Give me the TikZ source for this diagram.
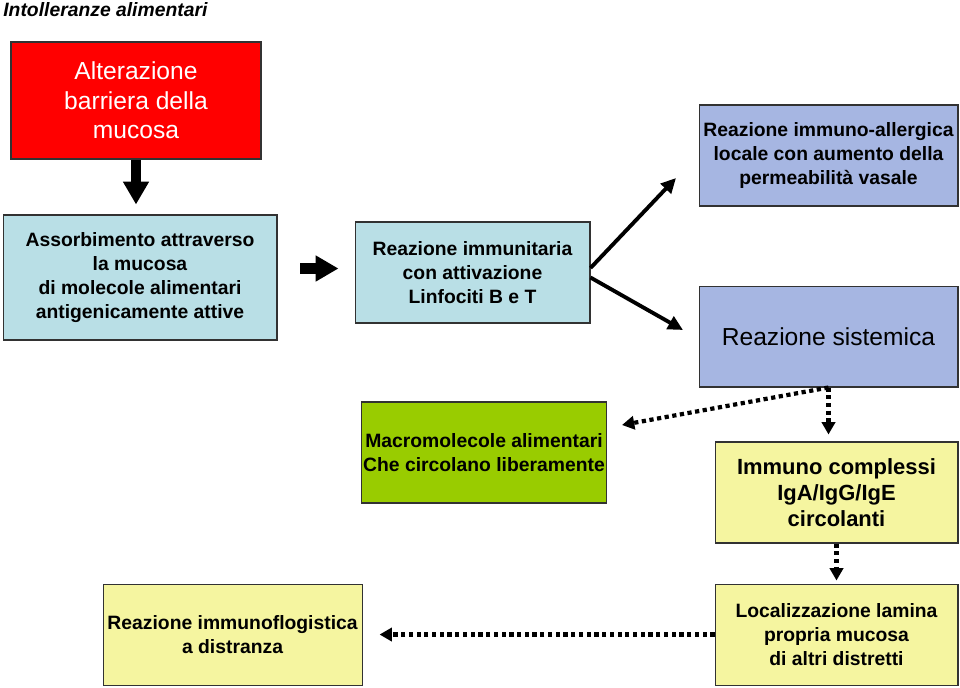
\documentclass[tikz,border=0pt]{standalone}
\usepackage{fontspec}
\setmainfont{Liberation Sans}
\usetikzlibrary{arrows.meta, positioning}
\definecolor{redbox}{RGB}{255, 0, 0}
\definecolor{cyanbox}{RGB}{185, 223, 230}
\definecolor{lilacbox}{RGB}{166, 182, 226}
\definecolor{greenbox}{RGB}{153, 204, 0}
\definecolor{yellowbox}{RGB}{245, 245, 160}
\definecolor{edge}{RGB}{50, 50, 50}

\begin{document}
\begin{tikzpicture}[x=0.02cm, y=-0.02cm,
    box/.style={draw=edge, line width=0.6pt, align=center, inner sep=1pt,
                minimum height=2.02cm, font=\fontsize{11}{13.5}\selectfont\bfseries},
    arr/.style={-{Triangle[length=8.5pt, width=8pt]}, line width=2.2pt},
    blk/.style={-{Triangle[length=13pt, width=14pt]}, line width=6pt},
    dotarr/.style={-{Triangle[length=7pt, width=7.5pt]}, line width=2.4pt,
                   dash pattern=on 2.4pt off 2pt}
  ]
    \useasboundingbox (0,0) rectangle (960,687);
    \node[anchor=north west, inner sep=0pt, font=\fontsize{11}{13}\selectfont\bfseries\itshape] (title) at (3,2) {Intolleranze alimentari};
    \node[box, fill=redbox, text=white, minimum width=5cm, minimum height=2.34cm,
          font=\fontsize{14}{16.7}\selectfont] (alter) at (136,100.5) {Alterazione\\barriera della\\mucosa};
    \node[box, fill=cyanbox, minimum width=5.48cm, minimum height=2.5cm] (assorb) at (140,277.5)
          {Assorbimento attraverso\\la mucosa\\di molecole alimentari\\antigenicamente attive};
    \node[box, fill=cyanbox, minimum width=4.7cm] (immun) at (472.5,272.5) {Reazione immunitaria\\con attivazione\\Linfociti B e T};
    \node[box, fill=lilacbox, minimum width=5.18cm] (allerg) at (828.5,155.5)
          {Reazione immuno-allergica\\locale con aumento della\\permeabilità vasale};
    \node[box, fill=lilacbox, minimum width=5.18cm, below=1.58cm of allerg,
          font=\fontsize{14}{16.7}\selectfont] (sistem) {Reazione sistemica};
    \node[box, fill=greenbox, minimum width=4.88cm] (macro) at (484,452.5) {Macromolecole alimentari\\Che circolano liberamente};
    \node[box, fill=yellowbox, minimum width=4.86cm,
          font=\fontsize{12.5}{14.7}\selectfont\bfseries] (immcompl) at (836.5,492.5) {Immuno complessi\\IgA/IgG/IgE\\circolanti};
    \node[box, fill=yellowbox, minimum width=4.86cm, below=0.8cm of immcompl] (local) {Localizzazione lamina\\propria mucosa\\di altri distretti};
    \node[box, fill=yellowbox, minimum width=5.18cm, left=7.04cm of local] (immflog) {Reazione immunoflogistica\\a distranza};
    \coordinate (toallerg) at (676,178);
    \coordinate (tosistem) at (683,330);
    \coordinate (tomacro) at (622,425);
    \draw[blk, shorten >=0.2cm] (alter.south) -- (alter.south |- assorb.north);
    \draw[blk, shorten <=0.46cm, shorten >=0.32cm] ([yshift=0.08cm]assorb.east |- immun.west) -- ([yshift=0.08cm]immun.west);
    \draw[arr] ([yshift=0.09cm]immun.east) -- (toallerg);
    \draw[arr] ([yshift=-0.1cm]immun.east) -- (tosistem);
    \draw[dotarr] (sistem.south) -- (tomacro);
    \draw[dotarr, shorten >=0.14cm] (sistem.south) -- (sistem.south |- immcompl.north);
    \draw[dotarr, shorten >=0.06cm] (immcompl.south) -- (local.north);
    \draw[dotarr, shorten >=0.34cm] (local.west) -- (immflog.east);
\end{tikzpicture}
\end{document}
